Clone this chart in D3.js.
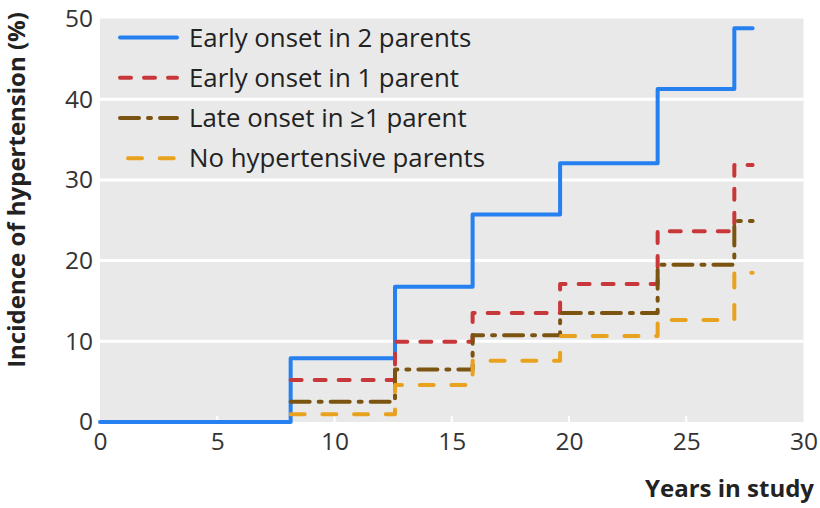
<!DOCTYPE html>
<html>
<head>
<meta charset="utf-8">
<script src="https://cdn.jsdelivr.net/npm/d3@7/dist/d3.min.js"></script>
<style>
  html, body { margin: 0; padding: 0; background: #ffffff; }
  svg { display: block; font-family: "Open Sans", "Noto Sans", sans-serif; }
</style>
</head>
<body>
<svg id="chart" width="820" height="508"></svg>
<script>
// ---- data ----
const stepTimes = [0, 8.13, 12.58, 15.89, 19.62, 23.78, 27.05];
const endTime = 27.83;
const earlyTwo   = [0, 7.9, 16.75, 25.7, 32.05, 41.25, 48.8];
const earlyOne   = [null, 5.2, 9.95, 13.5, 17.1, 23.65, 31.85];
const lateOne    = [null, 2.5, 6.5, 10.75, 13.5, 19.5, 24.9];
const noParents  = [null, 0.95, 4.6, 7.6, 10.65, 12.65, 18.5];
const seriesNames = ["Early onset in 2 parents", "Early onset in 1 parent", "Late onset in \u22651 parent", "No hypertensive parents"];
const xTicks = [0, 5, 10, 15, 20, 25, 30];
const yTicks = [0, 10, 20, 30, 40, 50];

// ---- styles ----
const styles = [
  { color: "#2680f0", dash: null },
  { color: "#c8373a", dash: "11,13" },
  { color: "#7b5412", dash: "19,9,3,9" },
  { color: "#e9a21e", dash: "14,17.7" }
];
const seriesValues = [earlyTwo, earlyOne, lateOne, noParents];

const svg = d3.select("#chart");
const x = d3.scaleLinear().domain([0, 30]).range([100, 803.5]);
const y = d3.scaleLinear().domain([0, 50]).range([422, 18.5]);

// plot background
svg.append("rect")
  .attr("x", x(0)).attr("y", y(50))
  .attr("width", x(30) - x(0)).attr("height", y(0) - y(50))
  .attr("fill", "#e9e9e9");

// gridlines
svg.append("g").selectAll("line")
  .data(yTicks.filter(d => d > 0 && d < 50))
  .join("line")
  .attr("x1", x(0)).attr("x2", x(30))
  .attr("y1", d => y(d)).attr("y2", d => y(d))
  .attr("stroke", "#ffffff").attr("stroke-width", 3);

// x tick marks (white, inside)
svg.append("g").selectAll("line")
  .data(xTicks.filter(d => d > 0 && d < 30))
  .join("line")
  .attr("x1", d => x(d)).attr("x2", d => x(d))
  .attr("y1", y(0) - 6).attr("y2", y(0))
  .attr("stroke", "#ffffff").attr("stroke-width", 2);

// x axis labels
const xAxis = d3.axisBottom(x).tickValues(xTicks).tickSize(0).tickPadding(11).tickFormat(d3.format("d"));
const gx = svg.append("g").attr("transform", `translate(0,${y(0)})`).call(xAxis);
gx.select(".domain").remove();
gx.selectAll("text").attr("font-size", 24.5).attr("fill", "#333").attr("font-family", "Open Sans");

// y axis labels
const yAxis = d3.axisLeft(y).tickValues(yTicks).tickSize(0).tickPadding(7).tickFormat(d3.format("d"));
const gy = svg.append("g").attr("transform", `translate(${x(0)},0)`).call(yAxis);
gy.select(".domain").remove();
gy.selectAll("text").attr("font-size", 24.5).attr("fill", "#333").attr("font-family", "Open Sans");

// lines
const line = d3.line()
  .x(d => x(d.t)).y(d => y(d.v))
  .curve(d3.curveStepAfter);

seriesValues.forEach((vals, i) => {
  const pts = stepTimes.map((t, j) => ({ t: t, v: vals[j] }));
  pts.push({ t: endTime, v: vals[vals.length - 1] });
  svg.append("path")
    .datum(pts.filter(d => d.v !== null))
    .attr("d", line)
    .attr("fill", "none")
    .attr("stroke", styles[i].color)
    .attr("stroke-width", 4)
    .attr("stroke-linecap", "round")
    .attr("stroke-linejoin", "round")
    .attr("stroke-dasharray", styles[i].dash);
});

// legend
const legendRows = [37.5, 77.7, 118, 158.3];
const lg = svg.append("g");
seriesNames.forEach((name, i) => {
  const ly = legendRows[i];
  lg.append("line")
    .attr("x1", i === 3 ? 128 : 120).attr("x2", 177)
    .attr("y1", ly).attr("y2", ly)
    .attr("stroke", styles[i].color)
    .attr("stroke-width", 4)
    .attr("stroke-linecap", "round")
    .attr("stroke-dasharray", styles[i].dash);
  lg.append("text")
    .attr("x", 189).attr("y", ly + 9)
    .attr("font-size", 25.8).attr("fill", "#222")
    .text(name);
});

// axis titles
svg.append("text")
  .attr("x", 814).attr("y", 497)
  .attr("text-anchor", "end")
  .attr("font-size", 24).attr("font-weight", "bold").attr("fill", "#222")
  .text("Years in study");

svg.append("text")
  .attr("transform", "translate(25,190) rotate(-90)")
  .attr("text-anchor", "middle")
  .attr("font-size", 24).attr("font-weight", "bold").attr("fill", "#222")
  .text("Incidence of hypertension (%)");
</script>
</body>
</html>
